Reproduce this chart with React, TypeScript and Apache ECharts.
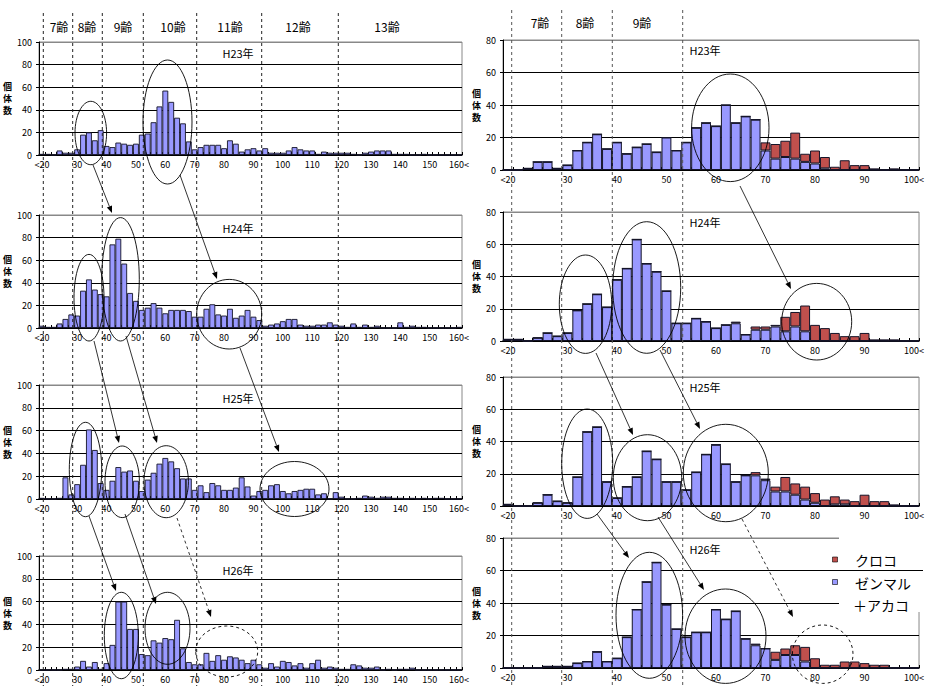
import React, { useEffect, useRef } from 'react';
import * as echarts from 'echarts';

// ---------- categories (2 mm bins) ----------
const LEFT_CATS: string[] = ['<20', ...Array.from({ length: 70 }, (_, i) => String(20 + 2 * i)), '160<'];
const RIGHT_CATS: string[] = ['<20', ...Array.from({ length: 40 }, (_, i) => String(20 + 2 * i)), '100<'];

// ---------- left column: all individuals, <20 .. 160< ----------
const H23_L = [1,1,0,4,2,2,5,18,20,13, 22,8,7,11,10,9,10,18,19,29, 43,57,47,33,28,12,5,7,9,9, 9,6,13,10,3,5,6,4,6,2, 2,2,4,7,5,4,4,1,3,2, 2,2,2,1,0,2,3,4,4,4, 1,1,1,0,0,1,0,0,0,0, 0,0];
const H24_L = [2,1,1,4,8,12,11,33,43,34, 30,28,74,79,57,31,24,16,18,22, 18,13,16,16,16,15,10,10,17,21, 12,11,17,9,11,16,10,7,2,3, 4,6,8,8,3,2,2,3,3,5, 3,2,1,4,1,3,1,2,0,0, 0,5,1,2,1,1,0,0,0,0, 0,1];
const H25_L = [1,0,0,1,19,4,13,30,61,43, 14,8,16,28,24,25,16,7,17,23, 31,36,33,27,18,18,8,12,6,14, 12,8,8,10,19,11,3,7,8,12, 13,7,5,7,8,9,9,4,5,0, 6,2,0,0,1,3,2,1,2,2, 1,1,0,1,0,1,0,1,1,0, 0,0];
const H26_L = [0,0,0,0,1,1,3,8,3,7, 1,6,22,60,60,36,36,14,13,26, 24,28,27,44,19,7,5,5,15,8, 13,9,12,11,9,6,9,5,2,6, 3,8,7,4,6,2,6,9,2,3, 2,1,1,5,4,2,2,3,0,1, 0,1,1,2,0,0,0,0,0,0, 0,0];

// ---------- right column: <20 .. 100<, stacked ----------
const H23_ZEN = [0,0,1,5,5,1,3,12,17,22, 13,17,10,14,16,11,20,12,17,26, 29,27,40,29,33,31,12,7,8,7, 5,4,1,0,0,0,0,0,0,0, 0,0];
const H23_KURO = [0,0,0,0,0,0,0,0,0,0, 0,0,0,0,0,0,0,0,0,0, 0,0,0,0,0,0,5,9,10,16, 5,8,7,2,6,3,3,1,0,1, 0,0];
const H24_ZEN = [1,1,0,2,5,3,5,19,23,29, 21,38,45,63,48,43,31,11,11,14, 12,8,10,11,4,7,7,9,6,9, 6,0,0,0,0,0,0,0,0,0, 0,0];
const H24_KURO = [0,0,0,0,0,0,0,0,0,0, 0,0,0,0,0,0,0,0,0,0, 0,0,0,1,0,2,2,1,9,9, 16,10,8,5,3,3,5,1,1,1, 0,0];
const H25_ZEN = [1,0,0,2,7,3,2,18,46,49, 15,5,12,18,34,29,15,15,10,21, 32,38,26,15,19,19,16,9,9,7, 4,2,0,1,1,0,0,0,0,0, 0,0];
const H25_KURO = [0,0,0,0,0,0,0,0,0,0, 0,0,0,0,0,0,0,0,0,0, 0,0,0,0,0,2,1,3,9,7, 8,6,4,5,3,3,7,3,3,1, 0,0];
const H26_ZEN = [0,0,0,0,1,1,1,3,4,10, 4,6,19,36,53,65,39,24,19,22, 22,36,30,35,18,14,12,5,8,8, 4,0,0,0,0,0,0,0,0,0, 0,0];
const H26_KURO = [0,0,0,0,0,0,0,0,0,0, 0,0,0,0,0,0,0,0,0,0, 0,0,0,0,0,1,0,5,4,6, 9,6,2,2,4,4,3,2,2,0, 0,0];

const YEARS = ['H23年', 'H24年', 'H25年', 'H26年'];
const LEFT_AGES = ['7齢', '8齢', '9齢', '10齢', '11齢', '12齢', '13齢'];
const RIGHT_AGES = ['7齢', '8齢', '9齢'];
const SERIES_NAMES = ['ゼンマル＋アカコ', 'クロコ'];

const BLUE = '#9999FF';
const RED = '#C0504D';
const EDGE = '#141428';
const FONT = '"Noto Sans CJK JP", "Noto Sans", sans-serif';

function arrow(x1: number, y1: number, x2: number, y2: number, dashed = false): any[] {
  const dx = x2 - x1, dy = y2 - y1;
  const len = Math.hypot(dx, dy);
  const ux = dx / len, uy = dy / len;
  const hl = 7, hw = 2.8;
  const bx = x2 - ux * hl, by = y2 - uy * hl;
  return [
    { type: 'line', z: 100, shape: { x1, y1, x2: bx, y2: by }, style: { stroke: '#000', lineWidth: 0.8, lineDash: dashed ? [3, 3] : null } },
    { type: 'polygon', z: 100, shape: { points: [[x2, y2], [bx - uy * hw, by + ux * hw], [bx + uy * hw, by - ux * hw]] }, style: { fill: '#000' } },
  ];
}

function ellipse(cx: number, cy: number, rx: number, ry: number, dashed = false): any {
  return { type: 'ellipse', z: 100, shape: { cx, cy, rx, ry }, style: { fill: 'none', stroke: '#000', lineWidth: 0.9, lineDash: dashed ? [3, 3] : null } };
}

function txt(text: string, x: number, y: number, size: number, extra: any = {}): any {
  return {
    type: 'text', z: 101,
    style: { text, x, y, font: `${size}px ${FONT}`, fill: '#000', align: 'center', verticalAlign: 'middle', textAlign: 'center', textVerticalAlign: 'middle', ...extra },
  };
}

function vdash(x: number, y1: number, y2: number, color: string): any {
  return { type: 'line', z: 99, shape: { x1: x, y1, x2: x, y2 }, style: { stroke: color, lineWidth: 1, lineDash: [3, 3] } };
}

export default function App() {
  const ref = useRef<HTMLDivElement>(null);
  useEffect(() => {
    if (!ref.current) return;
    const chart = echarts.init(ref.current, undefined, { renderer: 'svg' });

    const grids = [
      { left: 39, top: 42, width: 423, height: 113 },
      { left: 39, top: 215, width: 423, height: 113 },
      { left: 39, top: 385, width: 423, height: 114 },
      { left: 39, top: 556, width: 423, height: 114 },
      { left: 503, top: 40, width: 421, height: 130 },
      { left: 503, top: 212, width: 421, height: 129 },
      { left: 503, top: 377, width: 421, height: 129 },
      { left: 503, top: 538, width: 421, height: 130 },
    ].map((g) => ({ ...g, show: true, borderColor: '#888', borderWidth: 1, backgroundColor: 'transparent' }));

    const xAxes = grids.map((_, gi) => {
      const cats = gi < 4 ? LEFT_CATS : RIGHT_CATS;
      const last = cats.length - 1;
      return {
        type: 'category', gridIndex: gi, data: cats, boundaryGap: true,
        axisLine: { show: true, lineStyle: { color: '#000', width: 1.5 } },
        axisTick: { show: true, interval: 0, inside: true, length: 3, lineStyle: { color: '#000', width: 1 } },
        axisLabel: {
          interval: (idx: number) => idx === 0 || idx === last || (idx > 1 && (idx - 1) % 5 === 0),
          fontSize: 9, color: '#000', margin: 5, fontFamily: FONT,
        },
        splitLine: { show: false },
      };
    });

    const yAxes = grids.map((_, gi) => {
      const left = gi < 4;
      const max = left ? 100 : 80;
      const colors = left ? ['#000', '#000', '#000', '#000', '#000', '#888'] : ['#000', '#000', '#000', '#000', '#888'];
      return {
        type: 'value', gridIndex: gi, min: 0, max, interval: 20,
        name: '個\n体\n数', nameLocation: 'middle', nameRotate: 0, nameGap: 20,
        nameTextStyle: { fontSize: 9, fontWeight: 'bold', lineHeight: 12, color: '#000', fontFamily: FONT },
        axisLine: { show: true, lineStyle: { color: '#000', width: 1 } },
        axisTick: { show: true, length: 3, lineStyle: { color: '#000' } },
        axisLabel: { fontSize: 9, color: '#000', margin: 7, fontFamily: FONT },
        splitLine: { show: true, lineStyle: { color: colors, width: 1 } },
      };
    });

    const leftData = [H23_L, H24_L, H25_L, H26_L];
    const zen = [H23_ZEN, H24_ZEN, H25_ZEN, H26_ZEN];
    const kuro = [H23_KURO, H24_KURO, H25_KURO, H26_KURO];

    const series: any[] = [];
    leftData.forEach((d, i) => {
      series.push({
        type: 'bar', name: SERIES_NAMES[0] + i, xAxisIndex: i, yAxisIndex: i, data: d,
        barCategoryGap: '0%', itemStyle: { color: BLUE, borderColor: EDGE, borderWidth: 0.9 },
      });
    });
    zen.forEach((d, i) => {
      series.push({
        type: 'bar', name: SERIES_NAMES[0], stack: 'r' + i, xAxisIndex: 4 + i, yAxisIndex: 4 + i, data: d,
        barCategoryGap: '0%', itemStyle: { color: BLUE, borderColor: EDGE, borderWidth: 1 },
      });
      series.push({
        type: 'bar', name: SERIES_NAMES[1], stack: 'r' + i, xAxisIndex: 4 + i, yAxisIndex: 4 + i, data: kuro[i],
        barCategoryGap: '0%', itemStyle: { color: RED, borderColor: EDGE, borderWidth: 1 },
      });
    });

    const g: any[] = [];
    // age boundary dashed lines
    [43.3, 72.7, 102.3, 143.3, 196.7, 261.7, 338.3].forEach((x) => g.push(vdash(x, 13, 686, '#222')));
    [511.7, 561.7, 612.3, 682.7].forEach((x) => g.push(vdash(x, 10, 686, '#555')));
    // age labels
    const lAgeX = [59, 87, 123, 173, 230, 298, 387];
    LEFT_AGES.forEach((t, i) => g.push(txt(t, lAgeX[i], 26, 12)));
    const rAgeX = [540, 585, 642];
    RIGHT_AGES.forEach((t, i) => g.push(txt(t, rAgeX[i], 22, 12)));
    // panel titles
    const lTitleY = [53, 228, 398, 570];
    const rTitleY = [50, 222, 387, 549];
    YEARS.forEach((t, i) => {
      g.push(txt(t, 238, lTitleY[i], 11));
      g.push(txt(t, 705, rTitleY[i], 11));
    });

    // left ellipses
    g.push(ellipse(90.8, 133, 15.8, 31.7));
    g.push(ellipse(167.5, 122, 24.5, 62));
    g.push(ellipse(89, 297.7, 15, 43.3));
    g.push(ellipse(120.5, 279.3, 18.8, 61.7));
    g.push(ellipse(229.2, 314.2, 32.5, 34.8));
    g.push(ellipse(85.5, 469.5, 16.2, 47.2));
    g.push(ellipse(122.2, 481.8, 17.2, 35.8));
    g.push(ellipse(166.2, 481.7, 22.2, 36));
    g.push(ellipse(294.5, 489, 34.5, 27.5));
    g.push(ellipse(121.3, 635.5, 17, 43.2));
    g.push(ellipse(167.5, 628.3, 22.5, 36));
    g.push(ellipse(226.7, 651.5, 31, 25.5, true));
    // left arrows
    g.push(...arrow(93, 165, 112, 213));
    g.push(...arrow(180, 175, 217, 279));
    g.push(...arrow(94, 341, 119, 443));
    g.push(...arrow(126, 336, 157, 443));
    g.push(...arrow(240, 348, 279, 452));
    g.push(...arrow(89, 516, 116, 591));
    g.push(...arrow(125, 514, 156, 604));
    g.push(...arrow(177, 518, 211, 617, true));

    // right ellipses
    g.push(ellipse(730.3, 127.8, 38.7, 53.8));
    g.push(ellipse(585.5, 304.2, 26.2, 49.2));
    g.push(ellipse(646.7, 287.5, 34, 65.8));
    g.push(ellipse(816.7, 321.7, 35, 38.3));
    g.push(ellipse(587.2, 463.7, 25.5, 54.7));
    g.push(ellipse(647.5, 477.7, 34.2, 43));
    g.push(ellipse(725.8, 473, 42.5, 48.7));
    g.push(ellipse(649.3, 615.3, 33.3, 63));
    g.push(ellipse(725.5, 636.2, 40.5, 47.2));
    g.push(ellipse(822.7, 654.2, 30.3, 29.2, true));
    // right arrows
    g.push(...arrow(740, 186, 791, 289));
    g.push(...arrow(596, 353, 633, 435));
    g.push(...arrow(660, 350, 700, 429));
    g.push(...arrow(597, 514, 629, 558));
    g.push(...arrow(658, 517, 704, 590));
    g.push(...arrow(742, 519, 793, 617, true));

    // legend
    g.push({ type: 'rect', z: 50, shape: { x: 839, y: 531, width: 84, height: 81 }, style: { fill: '#fff' } });
    g.push({ type: 'line', z: 51, shape: { x1: 839, y1: 570.5, x2: 923, y2: 570.5 }, style: { stroke: '#000', lineWidth: 1 } });
    g.push({ type: 'rect', z: 101, shape: { x: 832.5, y: 557, width: 5, height: 5 }, style: { fill: RED, stroke: '#000', lineWidth: 0.6 } });
    g.push({ type: 'rect', z: 101, shape: { x: 832.5, y: 579.5, width: 5, height: 5 }, style: { fill: BLUE, stroke: '#000', lineWidth: 0.6 } });
    g.push(txt('クロコ', 855, 560, 14, { align: 'left', textAlign: 'left' }));
    g.push(txt('ゼンマル', 855, 583, 14, { align: 'left', textAlign: 'left' }));
    g.push(txt('＋アカコ', 853, 605, 14, { align: 'left', textAlign: 'left' }));

    chart.setOption({
      animation: false,
      backgroundColor: '#fff',
      textStyle: { fontFamily: FONT },
      grid: grids,
      xAxis: xAxes,
      yAxis: yAxes,
      series,
      graphic: { elements: g },
    });
    return () => chart.dispose();
  }, []);
  return <div ref={ref} style={{ position: 'absolute', left: 0, top: 0, width: 927, height: 686, background: '#fff' }} />;
}
